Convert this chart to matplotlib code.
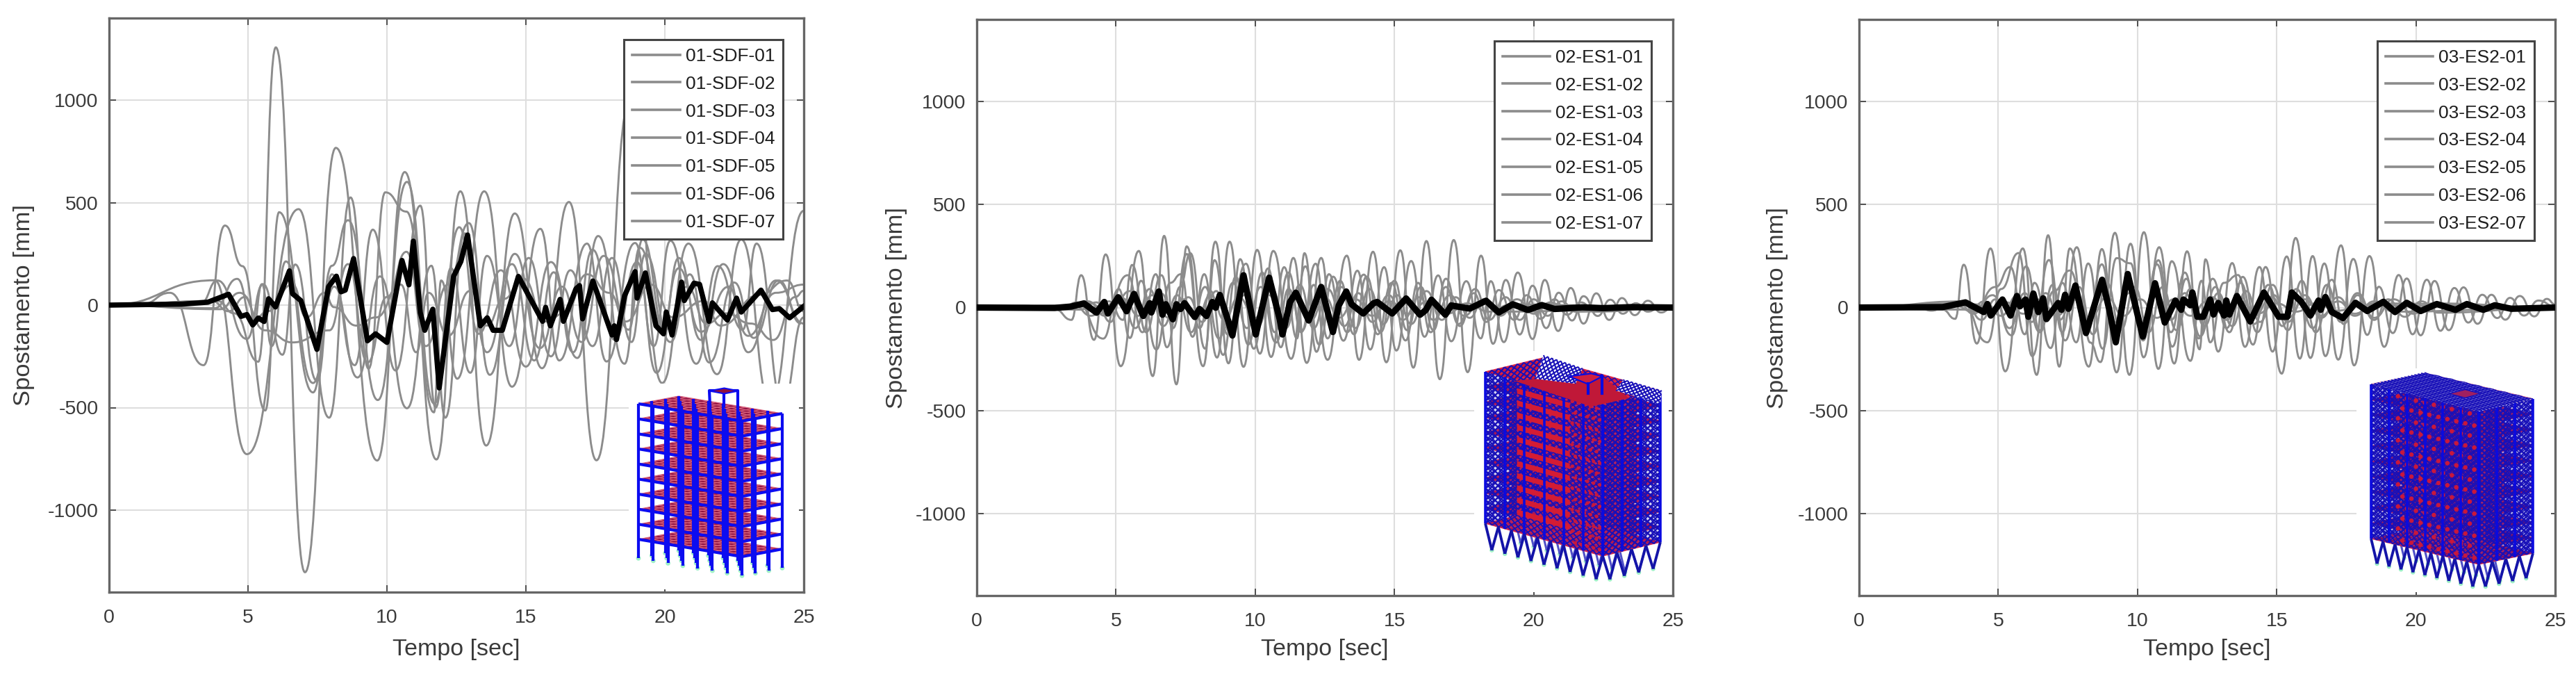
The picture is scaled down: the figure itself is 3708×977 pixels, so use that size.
import matplotlib
matplotlib.use('Agg')
import matplotlib.pyplot as plt
from matplotlib.collections import LineCollection, PolyCollection
from matplotlib.lines import Line2D
from matplotlib.patches import PathPatch
from matplotlib.path import Path

W, H = 3708, 977
GRAY = '#8c8c8c'
TEXT = '#3a3a3a'

plt.rcParams['font.family'] = ['Liberation Sans', 'DejaVu Sans']
plt.rcParams['axes.unicode_minus'] = False

X_TICKS = [0, 5, 10, 15, 20, 25]
Y_TICKS = [-1000, -500, 0, 500, 1000]

# turning points (time, displacement)
SDF_01 = [(0,0),(3.9,20),(4.5,-40),(5.37,-276),(6.0,1257),(7.05,-1303),(8.16,767),(9.65,-758),(10.64,649),(11.78,-753),(12.64,555),(13.57,-685),(14.6,447),(15.58,-308),(16.55,503),(17.54,-757),(18.75,1000),(19.9,-380),(20.85,300),(21.88,-337),(22.75,320),(23.8,-480),(25,460)]
SDF_02 = [(0,0),(3.8,121),(4.96,-727),(6.82,468),(7.92,-549),(8.69,525),(9.34,-310),(9.94,550),(10.7,456),(11.69,-523),(11.95,120),(12.53,-359),(13.5,555),(14.5,-398),(15.52,372),(16.2,-270),(17.2,300),(17.9,-275),(18.93,303),(19.6,-200),(20.2,314),(21.13,-286),(21.9,190),(22.8,-120),(23.3,300),(24.24,-480),(25,-60)]
SDF_03 = [(0,0),(1.2,5),(2.19,60),(3.4,-293),(4.17,388),(4.8,190),(5.62,-514),(6.12,453),(7.34,-426),(8.02,192),(8.6,414),(9.67,-463),(10.72,601),(11.7,-480),(12.6,380),(13.3,-140),(14.1,170),(15.0,-300),(15.9,210),(16.85,-258),(17.6,337),(18.55,-286),(19.1,280),(19.93,-110),(20.5,230),(21.3,-170),(22.1,200),(23.0,-150),(24.0,60),(25,100)]
SDF_04 = [(0,0),(3.3,10),(3.9,120),(4.96,-165),(5.54,102),(6.24,-242),(6.7,198),(7.48,-370),(8.02,150),(8.84,-293),(9.49,368),(10.31,-319),(11.2,485),(11.75,-500),(12.3,180),(13.0,-330),(13.6,240),(14.4,-200),(15.1,230),(15.9,-250),(16.6,170),(17.4,-200),(18.1,230),(18.8,-180),(19.3,250),(20.2,-180),(20.9,150),(21.6,-280),(22.5,110),(23.2,-160),(24.1,120),(24.9,-90)]
SDF_05 = [(0,0),(3.8,-15),(4.61,128),(5.2,-100),(5.5,102),(5.85,-200),(6.36,213),(7.34,-380),(8.1,90),(8.94,-353),(9.75,140),(10.72,-503),(11.6,192),(12.1,-549),(12.8,350),(13.6,-230),(14.5,200),(15.3,-270),(16.0,160),(16.7,-230),(17.4,270),(18.2,-170),(19.0,210),(19.7,-330),(20.5,180),(21.3,-130),(22.3,90),(23.0,-230),(24.0,120),(25,-90)]
SDF_06 = [(0,0),(4.0,-20),(4.7,60),(5.62,-123),(6.6,-182),(7.93,-123),(8.6,200),(9.3,-280),(10.0,40),(10.7,260),(11.4,-200),(12.2,100),(12.95,400),(13.7,-340),(14.6,250),(15.5,-210),(16.3,90),(17.0,-180),(17.8,240),(18.7,-120),(19.2,320),(20.0,-120),(20.8,90),(21.5,-90),(22.2,-40),(23.1,-90),(23.9,-170),(24.7,40),(25,70)]
SDF_07 = [(0,0),(3.7,20),(4.3,-30),(4.9,40),(5.3,-60),(5.7,-30),(6.6,100),(7.1,-60),(7.75,60),(8.1,-10),(8.9,-100),(9.6,-60),(10.5,100),(11.05,-230),(11.5,60),(12.2,-150),(13.0,70),(13.6,-100),(14.2,30),(14.9,130),(15.7,-80),(16.4,-40),(17.2,150),(18.0,60),(18.6,-80),(19.5,100),(20.3,-60),(21.4,20),(22.0,-100),(23.4,50),(24.4,120),(25,-30)]
SDF_MEAN = [(0,0),(2.64,5),(3.55,14),(4.3,53),(4.75,-55),(4.96,-46),(5.17,-97),(5.37,-63),(5.58,-80),(5.74,31),(5.99,-9),(6.49,167),(6.6,56),(6.9,22),(7.48,-216),(7.9,90),(8.18,141),(8.35,65),(8.5,73),(8.8,227),(9.3,-174),(9.59,-140),(10.0,-182),(10.54,218),(10.79,99),(10.95,312),(11.2,-37),(11.36,-123),(11.65,-20),(11.88,-404),(12.4,141),(12.66,213),(12.9,342),(13.36,-101),(13.61,-62),(13.82,-123),(14.15,-123),(14.73,140),(15.6,-79),(15.71,-11),(15.88,-101),(16.23,28),(16.35,-79),(16.8,79),(16.93,95),(17.04,-67),(17.41,118),(18.1,-146),(18.18,-101),(18.26,-168),(18.55,45),(18.93,163),(19.0,34),(19.3,157),(19.68,-101),(19.95,-140),(20.05,-34),(20.26,-146),(20.6,112),(20.7,22),(21.05,107),(21.25,101),(21.59,-79),(21.71,11),(22.25,-73),(22.58,34),(22.75,-34),(23.46,73),(23.87,-22),(24.12,-17),(24.49,-62),(25,-6)]

ES1_01 = [(0,0),(2.8,-8),(3.4,-60),(3.75,157),(4.21,-157),(4.63,258),(5.17,-285),(5.82,275),(6.32,-333),(6.73,348),(7.17,-373),(7.54,297),(8.13,-285),(8.57,320),(9.04,-271),(9.46,235),(9.95,-200),(10.46,190),(10.92,-193),(11.37,241),(11.85,-269),(12.37,241),(12.75,-100),(13.29,252),(13.73,-254),(14.23,271),(14.71,-266),(15.21,278),(15.68,-292),(16.15,323),(16.63,-348),(17.13,328),(17.63,-314),(18.11,252),(18.54,-176),(19,134),(19.5,-131),(19.96,106),(20.45,-100),(20.9,72),(21.38,-63),(21.79,55),(22.3,-41),(22.75,38),(23.2,-30),(23.67,21),(24.1,-20),(24.58,5),(25,0)]
ES1_02 = [(0,0),(3,-8),(3.6,25),(4.54,-151),(5.1,90),(5.5,-148),(5.9,130),(6.45,-204),(6.95,120),(7.33,162),(7.75,-142),(8.17,162),(8.63,-243),(9.08,320),(9.58,-288),(10.07,280),(10.57,-240),(11.04,196),(11.5,-150),(11.77,264),(12.2,-215),(12.65,162),(13.17,-161),(13.67,179),(14.13,-204),(14.63,196),(15.07,-209),(15.6,226),(16.08,-142),(16.57,156),(17.04,-164),(17.58,128),(18.1,-150),(18.46,128),(18.93,-168),(19.43,170),(19.96,-153),(20.4,134),(20.88,-114),(21.33,95),(21.79,-78),(22.25,69),(22.71,-60),(23.17,46),(23.63,-37),(24.1,33),(24.58,-24),(25,3)]
ES1_03 = [(0,0),(3.2,5),(4.0,30),(4.6,-40),(5.42,157),(5.95,-120),(6.43,162),(6.83,-193),(7.3,100),(7.67,264),(8.2,-200),(8.54,230),(9.0,-130),(9.67,213),(10.17,-224),(10.65,275),(11.29,-249),(11.8,200),(12.3,-180),(12.8,150),(13.3,-120),(13.9,160),(14.4,-130),(14.9,120),(15.4,-160),(15.85,120),(16.3,-120),(16.85,100),(17.3,-80),(17.9,90),(18.4,-60),(19.0,50),(19.5,-60),(20.0,40),(20.5,-40),(21,30),(21.5,-20),(25,0)]
ES1_04 = [(0,0),(3.5,10),(4.1,-40),(4.75,30),(5.25,-60),(5.58,207),(6.08,-120),(6.63,157),(7.05,-100),(7.54,260),(8.0,-100),(8.4,80),(8.85,-230),(9.3,150),(9.75,-180),(10.25,170),(10.7,-120),(11.2,170),(11.65,-120),(12.17,213),(12.6,-150),(13.05,130),(13.55,-130),(14.0,150),(14.5,-120),(15.0,130),(15.45,-110),(15.95,100),(16.4,-110),(16.85,140),(17.35,-90),(17.85,70),(18.3,-70),(18.75,85),(19.3,-60),(19.75,60),(20.25,-55),(20.75,40),(21.2,-35),(21.7,25),(22.2,-20),(25,0)]
ES1_05 = [(0,0),(3.7,-10),(4.3,25),(4.8,-70),(5.2,50),(5.7,-100),(6.2,90),(6.7,-90),(7.2,60),(7.7,-120),(8.2,100),(8.7,-150),(9.2,120),(9.7,-100),(10.2,100),(10.75,-170),(11.2,90),(11.7,-110),(12.1,110),(12.6,-254),(13.1,100),(13.6,-100),(14.1,90),(14.6,-80),(15.1,60),(15.6,-80),(16.15,80),(16.7,-60),(17.2,50),(17.7,-50),(18.2,40),(18.8,-40),(19.4,40),(20,-30),(20.6,25),(21.2,-15),(25,0)]
ES1_06 = [(0,0),(3.8,5),(4.4,-30),(5.0,30),(5.5,80),(6.0,-50),(6.6,70),(7.1,-40),(7.6,50),(8.1,-70),(8.6,80),(9.1,-120),(9.6,60),(10.1,-90),(10.6,90),(11.1,-100),(11.6,110),(12.1,-100),(12.6,90),(13.2,-90),(13.7,70),(14.2,-70),(14.8,60),(15.3,-60),(15.9,50),(16.4,-60),(17,60),(17.5,-40),(18.1,30),(18.7,-20),(25,0)]
ES1_07 = [(0,0),(1.8,8),(2.5,-10),(3.2,5),(4.1,20),(4.6,-20),(5.3,40),(5.8,-40),(6.3,60),(6.9,-50),(7.4,40),(7.9,-50),(8.4,60),(8.9,-60),(9.4,50),(10,-50),(10.5,60),(11,-70),(11.5,60),(12,-60),(12.5,50),(13,-50),(13.6,40),(14.2,-40),(14.8,30),(15.5,-30),(16.2,30),(16.9,-30),(17.6,20),(18.4,-20),(19.2,15),(25,0)]
ES1_MEAN = [(0,0),(2.8,-2),(3.4,5),(3.85,20),(4.3,-25),(4.58,27),(4.71,-29),(5.08,50),(5.38,-18),(5.65,66),(5.98,-41),(6.21,21),(6.27,-24),(6.54,78),(6.67,-35),(6.79,16),(7.04,-57),(7.17,16),(7.32,-7),(7.46,21),(7.83,-46),(8,-7),(8.25,-41),(8.46,27),(8.58,-1),(8.73,61),(9.04,-69),(9.18,-136),(9.58,157),(10.02,-131),(10.5,145),(10.88,-57),(10.98,-131),(11.25,27),(11.46,72),(11.92,-63),(12.37,100),(12.79,-119),(13,10),(13.27,78),(13.46,16),(13.88,-29),(14.25,21),(14.38,27),(14.92,-29),(15.42,44),(15.92,-35),(16.13,-12),(16.33,38),(16.83,-35),(17.04,10),(17.7,-5),(18.29,33),(18.75,-24),(19.25,16),(19.79,-12),(20.29,12),(20.75,-7),(21.75,1),(22.5,-3),(23.5,2),(25,0)]

ES2_01 = [(0,0),(3.0,-10),(3.45,-55),(3.76,208),(4.23,-175),(4.72,287),(5.25,-310),(5.88,287),(6.38,-327),(6.79,351),(7.19,-287),(7.57,287),(8.25,-287),(8.72,284),(9.25,-315),(9.75,310),(10.22,-242),(10.78,293),(11.32,-272),(11.78,273),(12.23,-203),(12.44,234),(12.9,-214),(13.4,216),(13.86,-191),(14.38,197),(14.85,-214),(15.36,248),(15.83,-248),(16.29,250),(16.75,-236),(17.31,302),(17.78,-281),(18.33,250),(18.86,-191),(19.38,158),(19.88,-130),(20.39,135),(20.88,-113),(21.38,95),(21.88,-73),(22.38,62),(22.92,-51),(23.38,47),(23.88,-39),(24.4,34),(25,5)]
ES2_02 = [(0,0),(3.2,8),(3.7,25),(4.61,-169),(5.1,90),(5.73,265),(6.22,-236),(6.82,231),(7.3,-120),(7.82,293),(8.3,-170),(8.67,-265),(9.19,363),(9.71,-327),(10.23,366),(10.75,-298),(11.23,225),(11.9,-259),(12.3,130),(12.61,-169),(13.1,120),(13.61,158),(14.15,-180),(14.6,197),(15.18,-321),(15.68,338),(16.21,-245),(16.71,214),(17.21,-253),(17.75,236),(18.25,-133),(18.67,101),(19.17,-124),(19.67,141),(20.17,-135),(20.67,129),(21.18,-110),(21.71,98),(22.21,-79),(22.71,62),(23.21,-59),(23.73,56),(24.25,-43),(24.7,42),(25,15)]
ES2_03 = [(0,0),(3.4,12),(4.1,-20),(4.9,100),(5.43,197),(5.95,-130),(6.3,120),(6.88,-197),(7.3,120),(7.8,-169),(8.23,214),(8.75,-200),(9.25,240),(9.75,215),(10.2,-160),(10.75,230),(11.25,-190),(11.75,140),(12.25,-140),(12.8,100),(13.3,-120),(13.78,149),(14.3,-120),(14.85,110),(15.4,-110),(15.9,130),(16.4,-120),(16.98,135),(17.4,-80),(17.9,60),(18.5,-60),(19,40),(19.6,-45),(20.2,30),(20.8,-25),(25,0)]
ES2_04 = [(0,0),(3.6,20),(4.1,-30),(4.8,60),(5.48,-135),(6.0,200),(6.5,-110),(7.0,80),(7.57,180),(8.2,-120),(8.72,210),(9.2,-170),(9.7,110),(10.2,-90),(10.7,210),(11.2,-120),(11.7,170),(12.2,-150),(12.7,140),(13.2,-100),(13.7,120),(14.2,-80),(14.7,110),(15.2,-90),(15.7,90),(16.3,-100),(16.8,110),(17.3,-70),(17.9,70),(18.5,-50),(19.2,40),(19.9,-30),(20.6,20),(25,0)]
ES2_05 = [(0,0),(3.8,30),(4.4,-60),(4.9,40),(5.4,-100),(5.95,70),(6.5,-120),(6.95,110),(7.4,-160),(7.9,100),(8.4,-130),(8.9,120),(9.4,-110),(9.9,100),(10.4,-120),(10.9,100),(11.4,-110),(11.9,90),(12.4,-90),(12.9,70),(13.4,-90),(13.9,80),(14.4,-70),(14.9,60),(15.4,-70),(16,60),(16.6,-50),(17.2,50),(17.8,-40),(18.5,30),(19.2,-20),(25,0)]
ES2_06 = [(0,0),(4.0,-10),(4.5,30),(5.1,-40),(5.7,60),(6.2,-70),(6.7,70),(7.2,-60),(7.7,60),(8.2,-80),(8.7,90),(9.2,-70),(9.7,70),(10.2,-80),(10.7,60),(11.2,-60),(11.7,70),(12.2,-50),(12.7,50),(13.2,-60),(13.7,50),(14.2,-40),(14.8,50),(15.4,-50),(16,40),(16.6,-40),(17.2,30),(17.8,-30),(18.5,20),(25,0)]
ES2_07 = [(0,0),(2.0,10),(2.6,-15),(3.2,10),(4.2,15),(4.7,-20),(5.3,25),(5.9,-30),(6.5,40),(7.1,-40),(7.7,40),(8.3,-50),(8.9,50),(9.5,-40),(10.1,40),(10.7,-50),(11.3,40),(11.9,-40),(12.5,30),(13.1,-30),(13.7,30),(14.3,-30),(15,20),(15.7,-20),(16.4,20),(17.2,-15),(18,10),(25,0)]
ES2_MEAN = [(0,0),(3,2),(3.82,25),(4.48,-22),(4.61,17),(4.73,-39),(5.15,39),(5.44,-39),(5.67,56),(5.78,6),(5.98,39),(6.08,-45),(6.26,68),(6.44,-22),(6.61,45),(6.73,-56),(7.15,22),(7.27,-11),(7.4,62),(7.52,-6),(7.77,107),(8.15,-124),(8.73,135),(8.98,-6),(9.22,-169),(9.65,163),(10.19,-141),(10.63,118),(10.98,-73),(11.36,34),(11.57,-11),(11.65,39),(11.9,11),(11.97,73),(12.15,-45),(12.36,-45),(12.61,39),(12.73,-34),(12.9,22),(13.11,-39),(13.19,34),(13.3,-34),(13.57,56),(14.05,-68),(14.54,73),(15.07,-45),(15.38,-45),(15.54,73),(15.88,28),(16.21,-39),(16.5,34),(16.58,-11),(16.75,51),(16.98,-22),(17.38,-51),(17.83,23),(18.25,-17),(18.83,28),(19.25,-22),(19.67,23),(20.17,-17),(20.75,17),(21.42,-11),(21.83,17),(22.42,-11),(22.83,11),(23.42,-6),(25,0)]

SDF_NAMES = ['01-SDF-01', '01-SDF-02', '01-SDF-03', '01-SDF-04', '01-SDF-05', '01-SDF-06', '01-SDF-07']
ES1_NAMES = ['02-ES1-01', '02-ES1-02', '02-ES1-03', '02-ES1-04', '02-ES1-05', '02-ES1-06', '02-ES1-07']
ES2_NAMES = ['03-ES2-01', '03-ES2-02', '03-ES2-03', '03-ES2-04', '03-ES2-05', '03-ES2-06', '03-ES2-07']


def px_rect(l, t, r, b):
    return [l / W, 1 - b / H, (r - l) / W, (b - t) / H]


def add_wave(ax, pts, color=GRAY, lw=2.1):
    # cubic segments with flat tangents at each turning point
    verts = [pts[0]]
    codes = [Path.MOVETO]
    for (t0, y0), (t1, y1) in zip(pts[:-1], pts[1:]):
        mid = (t0 + t1) / 2
        verts += [(mid, y0), (mid, y1), (t1, y1)]
        codes += [Path.CURVE4] * 3
    ax.add_patch(PathPatch(Path(verts, codes), fill=False, edgecolor=color, linewidth=lw))


def panel(box, series, mean, names, legend_box, ylabel_x, mean_lw):
    l, t, r, b = box
    ax = fig.add_axes(px_rect(l, t, r, b))
    ax.set_xlim(0, 25)
    ax.set_ylim(-1400, 1400)
    ax.set_xticks(X_TICKS)
    ax.set_yticks(Y_TICKS)
    ax.grid(True, color='#dedede', linewidth=1.5)
    ax.set_axisbelow(True)
    ax.tick_params(direction='in', length=7, width=1.3, top=True, right=True,
                   labelsize=20.5, labelcolor=TEXT, color='#444444')
    ax.tick_params(axis='x', pad=17)
    ax.tick_params(axis='y', pad=11)
    for s in ax.spines.values():
        s.set_color('#666666')
        s.set_linewidth(2.4)

    for pts in series:
        add_wave(ax, pts)
    xm, ym = zip(*mean)
    ax.plot(xm, ym, color='black', linewidth=mean_lw, solid_joinstyle='round', zorder=3)

    ax.set_xlabel('Tempo [sec]', fontsize=24.5, color=TEXT, va='center')
    ax.xaxis.set_label_coords(0.5, (b - 934) / (b - t))
    ax.set_ylabel('Spostamento [mm]', fontsize=24.8, color=TEXT, va='center')
    ax.yaxis.set_label_coords((ylabel_x - l) / (r - l), 0.5)

    handles = [Line2D([], [], color=GRAY, linewidth=2.6) for _ in names]
    leg = ax.legend(handles, names, loc='upper right', fontsize=19, frameon=True, fancybox=False,
                    framealpha=1, edgecolor='#444444', borderaxespad=0, borderpad=0.45,
                    handlelength=2.6, handletextpad=0.3, labelspacing=0.6,
                    bbox_to_anchor=((legend_box[0] - l) / (r - l), (b - legend_box[1]) / (b - t)))
    leg.get_frame().set_linewidth(2.2)
    leg.set_zorder(10)
    for txt in leg.get_texts():
        txt.set_color('#1e1e1e')
    return ax


def lerp(a, b, f):
    return (a[0] + (b[0] - a[0]) * f, a[1] + (b[1] - a[1]) * f)


def quad_mesh(ax, quad, nu, nv, color, lw, z, back=None):
    # X bracing on a four cornered face, corners given in order around it
    a, b, c, d = quad
    if back is not None:
        ax.add_collection(PolyCollection([quad], facecolors=[back], edgecolors='none', zorder=z))

    def at(s, k):
        return lerp(lerp(a, b, s), lerp(d, c, s), k)

    segs = []
    for i in range(nu):
        for j in range(nv):
            segs.append([at(i / nu, j / nv), at((i + 1) / nu, (j + 1) / nv)])
            segs.append([at((i + 1) / nu, j / nv), at(i / nu, (j + 1) / nv)])
    ax.add_collection(LineCollection(segs, colors=color, linewidths=lw, zorder=z))


class Block:
    # oblique box given by left, front and right corners of the top floor
    def __init__(self, left, front, right, height):
        self.left, self.front, self.right, self.height = left, front, right, height

    def pt(self, u, v, k):
        # u along long side, v along short side, k from top (0) to bottom (1)
        x = self.left[0] + (self.front[0] - self.left[0]) * u + (self.right[0] - self.front[0]) * v
        y = self.left[1] + (self.front[1] - self.left[1]) * u + (self.right[1] - self.front[1]) * v + self.height * k
        return (x, y)


def floors(ax, bk, n_levels, face, mesh, nu=14, nv=6, lw=0.9, z=2):
    for lev in range(n_levels, -1, -1):
        k = lev / n_levels
        poly = [bk.pt(0, 0, k), bk.pt(1, 0, k), bk.pt(1, 1, k), bk.pt(0, 1, k)]
        ax.add_collection(PolyCollection([poly], facecolors=face, edgecolors='none', zorder=z))
        segs = [[bk.pt(i / nu, 0, k), bk.pt(i / nu, 1, k)] for i in range(nu + 1)]
        segs += [[bk.pt(0, j / nv, k), bk.pt(1, j / nv, k)] for j in range(nv + 1)]
        ax.add_collection(LineCollection(segs, colors=mesh, linewidths=lw, zorder=z))


def frame_building(ax):
    bk = Block((919, 581), (1068, 606), (1126, 595), 195)
    nu, nv, nz = 7, 3, 9
    floors(ax, bk, nz, '#8e1040', '#d8607c')
    blue = '#0c0cf0'
    beams = []
    for lev in range(nz + 1):
        k = lev / nz
        beams += [[bk.pt(0, 0, k), bk.pt(1, 0, k)], [bk.pt(1, 0, k), bk.pt(1, 1, k)]]
    ax.add_collection(LineCollection(beams, colors=blue, linewidths=3.0, zorder=4))
    cols = []
    foot = []
    for v in range(nv, -1, -1):
        for u in range(nu + 1):
            p = bk.pt(u / nu, v / nv, 0)
            q = bk.pt(u / nu, v / nv, 1.14)
            cols.append([p, q])
            foot.append(q)
    ax.add_collection(LineCollection(cols, colors=blue, linewidths=3.0, zorder=5))
    xs, ys = zip(*foot)
    ax.scatter(xs, ys, s=24, color='#9ff0c8', edgecolors='none', zorder=3)
    # small box on the roof
    ax.plot([1022, 1021, 1062, 1062], [584, 562, 562, 584], color=blue, linewidth=3, zorder=3)
    ax.plot([1042, 1042], [564, 584], color=blue, linewidth=3, zorder=3)
    ax.add_collection(PolyCollection([[(1021, 562), (1042, 558), (1062, 562), (1042, 566)]],
                                     facecolors='#8e1040', edgecolors=blue, linewidths=1.5, zorder=3))


def braced_building(ax, left, front, right, height, base, n_x, n_y, n_z, line, face, tint):
    bk = Block(left, front, right, height)
    floors(ax, bk, 10, face, '#e03050', nu=12, nv=6, lw=1.0)

    # back faces first, then the two front ones
    quad_mesh(ax, [bk.pt(0, 0, 0), bk.pt(0, 1, 0), bk.pt(0, 1, 1), bk.pt(0, 0, 1)], n_y, n_z, line, 1.5, 3)
    quad_mesh(ax, [bk.pt(0, 1, 0), bk.pt(1, 1, 0), bk.pt(1, 1, 1), bk.pt(0, 1, 1)], n_x, n_z, line, 1.1, 3)
    quad_mesh(ax, [bk.pt(0, 0, 0), bk.pt(1, 0, 0), bk.pt(1, 0, 1), bk.pt(0, 0, 1)], n_x, n_z, line, 1.3, 5, back=tint)
    quad_mesh(ax, [bk.pt(1, 0, 0), bk.pt(1, 1, 0), bk.pt(1, 1, 1), bk.pt(1, 0, 1)], n_y, n_z, line, 1.6, 6, back=tint)

    # columns on the front faces
    cols = [[bk.pt(u / 6, 0, 0), bk.pt(u / 6, 0, 1)] for u in range(7)]
    cols += [[bk.pt(1, v / 3, 0), bk.pt(1, v / 3, 1)] for v in range(4)]
    ax.add_collection(LineCollection(cols, colors='#0a0ae0', linewidths=2.6, zorder=7))

    # V supports under the building, front row and a paler one behind
    vs, back_vs, foot = [], [], []
    corners = [(u / 9, 0) for u in range(10)] + [(1, v / 4) for v in range(1, 5)]
    for (a, c) in zip(corners[:-1], corners[1:]):
        p0, p1 = bk.pt(a[0], a[1], 1), bk.pt(c[0], c[1], 1)
        m = lerp(p0, p1, 0.5)
        tip = (m[0], m[1] + base)
        vs += [[p0, tip], [p1, tip]]
        foot.append(tip)
        shift = (right[0] - front[0]) * 0.5, (right[1] - front[1]) * 0.5
        if a[1] == 0:
            back_tip = (tip[0] + shift[0], tip[1] + shift[1])
            back_vs += [[(p0[0] + shift[0], p0[1] + shift[1]), back_tip],
                        [(p1[0] + shift[0], p1[1] + shift[1]), back_tip]]
            foot.append(back_tip)
    ax.add_collection(LineCollection(back_vs, colors='#5050c8', linewidths=2.2, zorder=1))
    ax.add_collection(LineCollection(vs, colors='#1414a8', linewidths=2.8, zorder=7))
    xs, ys = zip(*foot)
    ax.scatter(xs, ys, s=22, color='#9ff0c8', edgecolors='none', zorder=0)
    return bk


def red_bands(ax, bk, u0, u1, n):
    # floor slabs seen through the front bracing of the second model
    bands = []
    for i in range(n):
        k0 = 0.05 + 0.88 * i / n
        k1 = k0 + 0.036
        bands.append([bk.pt(u0, 0, k0), bk.pt(u1, 0, k0), bk.pt(u1, 0, k1), bk.pt(u0, 0, k1)])
    ax.add_collection(PolyCollection(bands, facecolors='#d41c34', edgecolors='none', zorder=6))


def red_spots(ax, bk, u0, u1, n_u, n_k, size):
    # slab ends showing as spots through the bracing
    xs, ys = [], []
    for i in range(n_u):
        for j in range(n_k):
            x, y = bk.pt(u0 + (u1 - u0) * (i + 0.5 * (j % 2)) / n_u, 0, (j + 0.5) / n_k)
            xs.append(x)
            ys.append(y)
    ax.scatter(xs, ys, s=size, color='#c8183c', edgecolors='none', zorder=6)


def es1_roof(ax, line):
    # truss pieces standing on the roof of the second model
    white = (1, 1, 1, 1)
    quad_mesh(ax, [(2222, 511), (2278, 530), (2268, 552), (2210, 545)], 9, 4, line, 1.5, 8, back=white)
    quad_mesh(ax, [(2337, 546), (2392, 562), (2390, 580), (2326, 562)], 9, 3, line, 1.5, 8, back=white)
    ax.add_collection(PolyCollection([[(2180, 548), (2258, 541), (2306, 541), (2345, 573), (2290, 585)]],
                                     facecolors='#c01838', edgecolors='none', zorder=7))
    ax.add_collection(PolyCollection([[(2258, 541), (2290, 537), (2306, 541), (2285, 552)]],
                                     facecolors='#d02040', edgecolors='#0a0ae0', linewidths=1.5, zorder=9))
    ax.plot([2306, 2306], [541, 566], color='#0a0ae0', linewidth=3, zorder=9)
    ax.plot([2286, 2286], [552, 566], color='#0a0ae0', linewidth=3, zorder=9)


def es2_roof(ax, line):
    white = (1, 1, 1, 1)
    quad_mesh(ax, [(3413, 553), (3490, 536), (3646, 574), (3568, 592)], 16, 8, line, 1.1, 8, back=white)
    ax.add_collection(PolyCollection([[(3525, 566), (3548, 560), (3570, 566), (3548, 572)]],
                                     facecolors='#a02060', edgecolors=line, linewidths=1, zorder=9))


def picture_axes(l, t, r, b):
    ax = fig.add_axes(px_rect(l, t, r, b))
    ax.set_xlim(l, r)
    ax.set_ylim(b, t)
    ax.set_facecolor('white')
    ax.set_xticks([])
    ax.set_yticks([])
    for s in ax.spines.values():
        s.set_visible(False)
    return ax


fig = plt.figure(figsize=(W / 100, H / 100), dpi=100, facecolor='white')

panel((157, 26, 1157, 852), [SDF_01, SDF_02, SDF_03, SDF_04, SDF_05, SDF_06, SDF_07], SDF_MEAN,
      SDF_NAMES, (1127, 57), 35, 5.4)
panel((1406, 28, 2408, 857), [ES1_01, ES1_02, ES1_03, ES1_04, ES1_05, ES1_06, ES1_07], ES1_MEAN,
      ES1_NAMES, (2377, 59), 1291, 6.6)
panel((2676, 28, 3678, 857), [ES2_01, ES2_02, ES2_03, ES2_04, ES2_05, ES2_06, ES2_07], ES2_MEAN,
      ES2_NAMES, (3648, 59), 2558, 6.6)

frame_building(picture_axes(905, 552, 1150, 848))

ax2 = picture_axes(2122, 505, 2402, 852)
bk2 = braced_building(ax2, (2138, 535), (2307, 582), (2390, 562), 218, 36, 18, 9, 26, '#1810b8', '#d01838', (0.1, 0.08, 0.75, 0.18))
red_bands(ax2, bk2, 0.27, 0.72, 11)
red_spots(ax2, bk2, 0.74, 1.0, 5, 14, 14)
es1_roof(ax2, '#1810b8')

ax3 = picture_axes(3392, 530, 3672, 852)
bk3 = braced_building(ax3, (3413, 553), (3568, 590), (3646, 574), 222, 34, 20, 9, 28, '#1810b8', '#a01040', (0.1, 0.08, 0.75, 0.3))
red_spots(ax3, bk3, 0.25, 1.0, 9, 14, 22)
es2_roof(ax3, '#1810b8')

fig.savefig('out.png', dpi=100, facecolor='white')
